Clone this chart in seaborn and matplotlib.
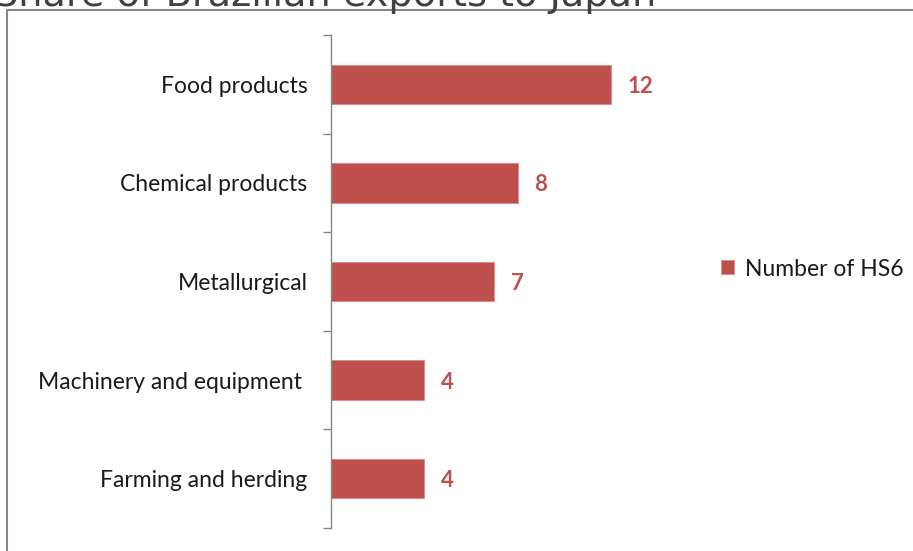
import matplotlib
matplotlib.use("Agg")
import matplotlib.pyplot as plt
from matplotlib.lines import Line2D
import seaborn as sns
import pandas as pd

categories = ["Food products", "Chemical products", "Metallurgical",
              "Machinery and equipment ", "Farming and herding"]
counts = [12, 8, 7, 4, 4]
series_name = "Number of HS6"
title_text = "Share of Brazilian exports to Japan"

bar_color = "#C0504D"
W, H = 913, 551

sns.set_theme(style="white")
plt.rcParams["font.family"] = ["Lato", "DejaVu Sans"]

df = pd.DataFrame({"category": categories, "count": counts})

fig = plt.figure(figsize=(W / 100, H / 100), dpi=100)
fig.patch.set_facecolor("white")

# plot area in pixel terms
left_px, top_px, bottom_px = 331, 35, 528
px_per_unit = 280 / 12
xmax = 14
ax = fig.add_axes([left_px / W, (H - bottom_px) / H,
                   xmax * px_per_unit / W, (bottom_px - top_px) / H])

sns.barplot(data=df, y="category", x="count", orient="h", color=bar_color,
            width=0.4, saturation=1, ax=ax, label=series_name,
            edgecolor="#D98A88", linewidth=0.6)

ax.set_xlim(0, xmax)
ax.set_ylim(len(categories) - 0.5, -0.5)
ax.set_xlabel("")
ax.set_ylabel("")
ax.set_xticks([])
for s in ["top", "right", "bottom"]:
    ax.spines[s].set_visible(False)
ax.spines["left"].set_color("#868686")
ax.spines["left"].set_linewidth(1.0)

# category boundaries carry the tick marks
ax.set_yticks([i - 0.5 for i in range(len(categories) + 1)], minor=True)
ax.tick_params(axis="y", which="minor", length=6, width=1.0, color="#868686", left=True)
ax.tick_params(axis="y", which="major", length=0, pad=17, labelsize=16.5,
               labelcolor="#1a1a1a")

for i, v in enumerate(counts):
    ax.annotate(str(v), xy=(v, i), xytext=(12, 0), textcoords="offset points",
                va="center_baseline", ha="left", fontsize=16, fontweight="bold",
                color=bar_color)

leg = ax.legend(loc="center left", bbox_to_anchor=(721 / W, 282 / H),
                bbox_transform=fig.transFigure, frameon=False,
                handlelength=0.55, handleheight=0.55, handletextpad=0.5,
                fontsize=16.5, borderaxespad=0, borderpad=0)
for t in leg.get_texts():
    t.set_color("#1a1a1a")

# title partly above the top edge
fig.text(-6 / W, (H - 6) / H, title_text, ha="left", va="baseline",
         fontsize=27.5, color="#404040", family=["DejaVu Sans"])

# chart frame
fig.add_artist(Line2D([6.5 / W, 6.5 / W, 1.0], [0, (H - 9.5) / H, (H - 9.5) / H],
                      transform=fig.transFigure, color="#868686", lw=1.5))

fig.savefig("out.png", dpi=100, facecolor="white")
